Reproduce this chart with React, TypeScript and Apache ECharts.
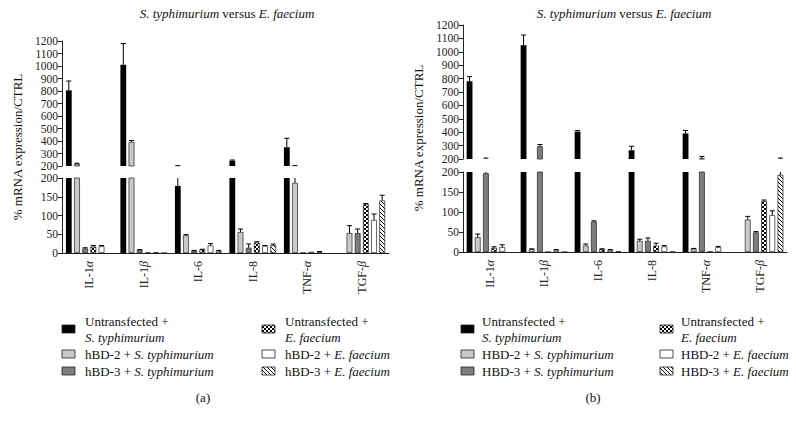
import React, { useEffect, useRef } from 'react';
import * as echarts from 'echarts';

// ---------- data ----------
const categories = ['IL-1α', 'IL-1β', 'IL-6', 'IL-8', 'TNF-α', 'TGF-β'];
const upperTicks = { min: 200, max: 1200, interval: 100 };
const lowerTicks = { min: 0, max: 200, interval: 50 };

// panel (a)
const aUntrS = [805, 1010, 179, 242, 350, null];
const aUntrSErr = [75, 170, 24, 6, 72, null];
const aHbd2S = [216, 392, 47, 56, 187, 53];
const aHbd2SErr = [6, 12, 2, 8, 16, 20];
const aHbd3S = [12, 8, 6, 14, 1, 53];
const aHbd3SErr = [2, 1, 1, 10, 0, 11];
const aUntrE = [17, 1, 9, 28, 3, 130];
const aUntrEErr = [3, 0, 1, 2, 0, 2];
const aHbd2E = [18, 2, 20, 19, 3, 88];
const aHbd2EErr = [2, 0, 5, 1, 1, 16];
const aHbd3E = [null, 0, 6, 21, null, 140];
const aHbd3EErr = [null, 0, 1, 3, null, 14];

// panel (b)
const bUntrS = [780, 1049, 404, 265, 391, null];
const bUntrSErr = [35, 76, 9, 30, 22, null];
const bHbd2S = [37, 7, 16, 28, 8, 81];
const bHbd2SErr = [8, 1, 4, 4, 1, 8];
const bHbd3S = [197, 295, 76, 28, 205, 49];
const bHbd3SErr = [10, 13, 2, 7, 14, 2];
const bUntrE = [10, 0, 7, 16, 1, 127];
const bUntrEErr = [3, 0, 1, 6, 0, 3];
const bHbd2E = [12, 5, 5, 14, 12, 92];
const bHbd2EErr = [6, 1, 1, 2, 2, 11];
const bHbd3E = [null, 0, 2, 1, null, 193];
const bHbd3EErr = [null, 0, 0, 0, null, 14];

const panelA = [
  [aUntrS, aUntrSErr], [aHbd2S, aHbd2SErr], [aHbd3S, aHbd3SErr],
  [aUntrE, aUntrEErr], [aHbd2E, aHbd2EErr], [aHbd3E, aHbd3EErr],
];
const panelB = [
  [bUntrS, bUntrSErr], [bHbd2S, bHbd2SErr], [bHbd3S, bHbd3SErr],
  [bUntrE, bUntrEErr], [bHbd2E, bHbd2EErr], [bHbd3E, bHbd3EErr],
];

const titleText = '{i|S. typhimurium} versus {i|E. faecium}';
const yAxisName = '% mRNA expression/CTRL';
// each legend entry: lines of text (rich markup)
const legendA = [
  ['Untransfected +', '{i|S. typhimurium}'], ['hBD-2 + {i|S. typhimurium}'], ['hBD-3 + {i|S. typhimurium}'],
  ['Untransfected +', '{i|E. faecium}'], ['hBD-2 + {i|E. faecium}'], ['hBD-3 + {i|E. faecium}'],
];
const legendB = [
  ['Untransfected +', '{i|S. typhimurium}'], ['HBD-2 + {i|S. typhimurium}'], ['HBD-3 + {i|S. typhimurium}'],
  ['Untransfected +', '{i|E. faecium}'], ['HBD-2 + {i|E. faecium}'], ['HBD-3 + {i|E. faecium}'],
];
const captions = ['(a)', '(b)'];

// ---------- styling ----------
const FONT = 'Liberation Serif';
const BAR_W = 5.8;
const GAP = 0.41;
const PITCH = BAR_W * (1 + GAP);

function makePattern(kind: string) {
  const c = document.createElement('canvas');
  c.width = 4;
  c.height = 4;
  const ctx = c.getContext('2d')!;
  ctx.fillStyle = '#fff';
  ctx.fillRect(0, 0, 4, 4);
  ctx.fillStyle = '#000';
  if (kind === 'check') {
    ctx.fillRect(0, 0, 2, 2);
    ctx.fillRect(2, 2, 2, 2);
  } else {
    for (let i = 0; i < 4; i++) ctx.fillRect(i, i, 1, 1);
  }
  return { image: c, repeat: 'repeat', imageWidth: 4, imageHeight: 4 };
}

export default function App() {
  const ref = useRef<HTMLDivElement>(null);
  useEffect(() => {
    if (!ref.current) return;
    const chart = echarts.init(ref.current, undefined, { renderer: 'svg' });
    const fills: any[] = ['#000000', '#c9c9c9', '#7d7d7d', makePattern('check'), '#ffffff', makePattern('hatch')];

    const grids = [
      { left: 62, top: 41, width: 327, height: 125 },
      { left: 62, top: 178, width: 327, height: 75 },
      { left: 463, top: 25, width: 324, height: 134 },
      { left: 463, top: 172, width: 324, height: 80 },
    ];
    const isUpper = [true, false, true, false];

    const xAxes = grids.map((_, gi) => ({
      type: 'category',
      gridIndex: gi,
      data: categories,
      show: !isUpper[gi],
      axisLine: { show: true, lineStyle: { color: '#222', width: 1 } },
      axisTick: { show: false },
      axisLabel: {
        rotate: 90,
        margin: 8,
        fontSize: 12,
        fontFamily: FONT,
        color: '#222',
        formatter: (v: string) => v.replace(/([αβ])/, '{g|$1}'),
        rich: { g: { fontStyle: 'italic', fontSize: 12, fontFamily: FONT, color: '#222' } },
      },
    }));
    const yAxes = grids.map((_, gi) => {
      const t = isUpper[gi] ? upperTicks : lowerTicks;
      return {
        type: 'value',
        gridIndex: gi,
        min: t.min,
        max: t.max,
        interval: t.interval,
        splitLine: { show: false },
        axisLine: { show: true, lineStyle: { color: '#222', width: 1 } },
        axisTick: { show: true, length: 4, lineStyle: { color: '#222' } },
        axisLabel: {
          fontSize: 11.5, fontFamily: FONT, color: '#222', margin: 4,
          formatter: (v: number) => String(v),
        },
      };
    });

    const series: any[] = [];
    [panelA, panelB].forEach((panel, p) => {
      [0, 1].forEach((lvl) => {
        const gi = p * 2 + lvl;
        const up = lvl === 0;
        const lo = up ? upperTicks.min : lowerTicks.min;
        const hi = up ? upperTicks.max : lowerTicks.max;
        panel.forEach(([vals], s) => {
          series.push({
            type: 'bar',
            xAxisIndex: gi,
            yAxisIndex: gi,
            barWidth: BAR_W,
            barGap: GAP * 100 + '%',
            clip: true,
            silent: true,
            data: (vals as any[]).map((v) => (v == null ? '-' : up && v <= lo ? '-' : v)),
            itemStyle: {
              color: fills[s],
              borderColor: s === 0 ? '#000' : '#222',
              borderWidth: s === 0 ? 0 : 0.7,
            },
          });
        });
        panel.forEach(([vals, errs], s) => {
          const data = (vals as any[])
            .map((v, i) => (v == null || errs[i] == null ? null : [i, v, errs[i]]))
            .filter((d) => d !== null);
          series.push({
            type: 'custom',
            xAxisIndex: gi,
            yAxisIndex: gi,
            silent: true,
            z: 5,
            data,
            renderItem: (params: any, api: any) => {
              const ci = api.value(0);
              const v = api.value(1);
              const e = api.value(2);
              const top = v + e;
              if (e <= 0) return null;
              if (top <= lo || v >= hi) return null;
              const x = api.coord([ci, lo])[0] + (s - 2.5) * PITCH;
              const yBase = api.coord([ci, Math.max(v, lo)])[1];
              const yTop = api.coord([ci, Math.min(top, hi)])[1];
              const children: any[] = [
                { type: 'line', shape: { x1: x, y1: yBase, x2: x, y2: yTop }, style: { stroke: '#000', lineWidth: 1 } },
              ];
              if (top <= hi) {
                children.push({ type: 'line', shape: { x1: x - 2.5, y1: yTop, x2: x + 2.5, y2: yTop }, style: { stroke: '#000', lineWidth: 1 } });
              }
              return { type: 'group', children };
            },
          });
        });
      });
    });

    const richBase = { i: { fontStyle: 'italic', fontSize: 13, fontFamily: FONT, fill: '#111' } };
    const graphic: any[] = [];
    const panelsGeo = [
      { titleX: 227, yLabelX: 17, yLabelY: 147, col: [62, 262], textOff: 23, capX: 203 },
      { titleX: 624, yLabelX: 418, yLabelY: 138, col: [461, 660], textOff: 21, capX: 593 },
    ];
    const rowsY = [329, 354, 371];
    const textStyle = { fontSize: 13, fontFamily: FONT, fill: '#111', verticalAlign: 'middle', rich: richBase };
    [legendA, legendB].forEach((leg, p) => {
      const g = panelsGeo[p];
      graphic.push({
        type: 'text', x: g.titleX, y: 13,
        style: { ...textStyle, text: titleText, align: 'center' },
      });
      graphic.push({
        type: 'text', x: g.yLabelX, y: g.yLabelY, rotation: Math.PI / 2,
        style: { ...textStyle, text: yAxisName, align: 'center' },
      });
      graphic.push({
        type: 'text', x: g.capX, y: 397,
        style: { ...textStyle, text: captions[p], align: 'center' },
      });
      leg.forEach((lines, s) => {
        const cx = g.col[Math.floor(s / 3)];
        const cy = rowsY[s % 3];
        graphic.push({
          type: 'rect',
          shape: { x: cx, y: cy - 4, width: 13, height: 8 },
          style: { fill: fills[s], stroke: '#222', lineWidth: 0.8 },
        });
        const first = cy - ((lines.length - 1) * 16) / 2;
        lines.forEach((ln, k) => {
          graphic.push({
            type: 'text', x: cx + g.textOff, y: first + k * 16,
            style: { ...textStyle, text: ln, align: 'left' },
          });
        });
      });
    });

    chart.setOption({
      animation: false,
      backgroundColor: '#fff',
      grid: grids,
      xAxis: xAxes,
      yAxis: yAxes,
      series,
      graphic,
    });
    return () => chart.dispose();
  }, []);
  return <div ref={ref} style={{ position: 'absolute', left: 0, top: 0, width: 796, height: 422 }} />;
}
